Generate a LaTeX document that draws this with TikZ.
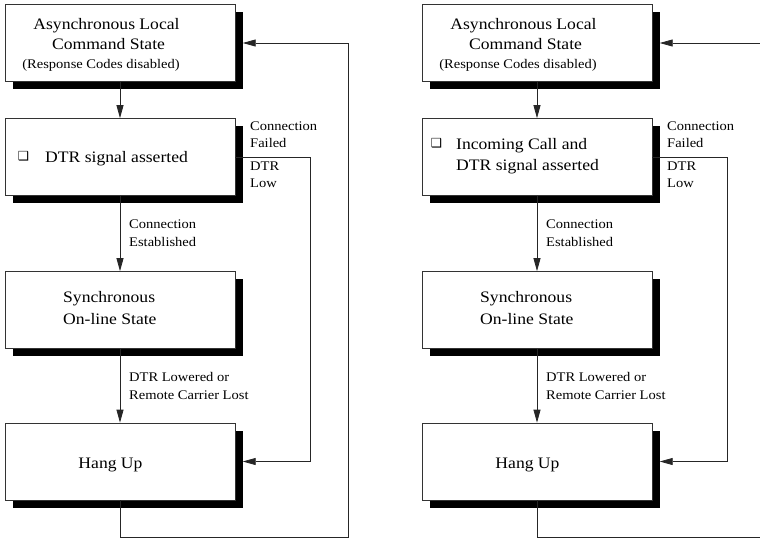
\documentclass[tikz,border=0pt]{standalone}
\usepackage{fontspec}
\setmainfont[FakeStretch=1.1]{Liberation Serif}
\newfontfamily\symfont{DejaVu Sans}
\usetikzlibrary{arrows.meta}
\begin{document}
\begin{tikzpicture}[x=1pt,y=-1pt,
  box/.style={draw=black!80, line width=0.7pt, fill=white, minimum width=230pt, minimum height=77pt, inner sep=0pt},
  shad/.style={fill=black, draw=none, minimum width=230pt, minimum height=77pt, inner sep=0pt},
  big/.style={font=\fontsize{16}{20}\selectfont, inner sep=0pt, anchor=base west},
  bigc/.style={font=\fontsize{16}{20}\selectfont, inner sep=0pt, anchor=base},
  small/.style={font=\fontsize{13.2}{17}\selectfont, inner sep=0pt, anchor=base west},
  smallc/.style={font=\fontsize{13.2}{17}\selectfont, inner sep=0pt, anchor=base},
  chk/.style={font=\symfont\fontsize{12.5}{12.5}\selectfont, inner sep=0pt, anchor=center},
  line/.style={draw=black!85, line width=0.8pt},
  arr/.style={line, -{Triangle[length=13pt,width=7pt]}}
]
\useasboundingbox (0,0) rectangle (760,539);
\clip (0,0) rectangle (760,539);

% ---------------- left diagram ----------------
\node[shad] (Ls1) at (127.5,50.5) {};
\node[shad] (Ls2) at (127.5,164.5) {};
\node[shad] (Ls3) at (127.5,317.5) {};
\node[shad] (Ls4) at (127.5,469) {};
\node[box] (L1) at (120,43) {};
\node[box] (L2) at (120,157) {};
\node[box] (L3) at (120,310) {};
\node[box] (L4) at (120,461.5) {};

\node[bigc] (L1a) at (106.5,29) {Asynchronous Local};
\node[bigc] (L1b) at (108.5,49) {Command State};
\node[smallc] (L1c) at (101,68) {(Response Codes disabled)};
\node[chk] (L2c) at (23.5,156) {❑};
\node[big] (L2a) at (45,162.5) {DTR signal asserted};
\node[big] (L3a) at (63,302.5) {Synchronous};
\node[big] (L3b) at (63,324.5) {On-line State};
\node[bigc] (L4a) at (110.5,468) {Hang Up};

\node[small] (Lf1) at (250,130) {Connection};
\node[small] (Lf2) at (250,147) {Failed};
\node[small] (Ld1) at (250,170) {DTR};
\node[small] (Ld2) at (250,187) {Low};
\node[small] (Le1) at (129,228) {Connection};
\node[small] (Le2) at (129,246) {Established};
\node[small] (Lr1) at (129,381) {DTR Lowered or};
\node[small] (Lr2) at (129,399) {Remote Carrier Lost};

\coordinate (Lloop) at (348,537);
\draw[arr] (L1.south) -- (L2.north);
\draw[arr] (L2.south) -- (L3.north);
\draw[arr] (L3.south) -- (L4.north);
\draw[arr] (L2.east) -- ++(75,0) |- (L4.east -| Ls4.east);
\draw[arr] (L4.south) |- (Lloop) |- (L1.east -| Ls1.east);

% ---------------- right diagram ----------------
\node[shad] (Rs1) at (544.5,50.5) {};
\node[shad] (Rs2) at (544.5,164.5) {};
\node[shad] (Rs3) at (544.5,317.5) {};
\node[shad] (Rs4) at (544.5,469) {};
\node[box] (R1) at (537,43) {};
\node[box] (R2) at (537,157) {};
\node[box] (R3) at (537,310) {};
\node[box] (R4) at (537,461.5) {};

\node[bigc] (R1a) at (523.5,29) {Asynchronous Local};
\node[bigc] (R1b) at (525.5,49) {Command State};
\node[smallc] (R1c) at (518,68) {(Response Codes disabled)};
\node[chk] (R2c) at (436.5,143.5) {❑};
\node[big] (R2a) at (456,149) {Incoming Call and};
\node[big] (R2b) at (456,170) {DTR signal asserted};
\node[big] (R3a) at (480,302.5) {Synchronous};
\node[big] (R3b) at (480,324.5) {On-line State};
\node[bigc] (R4a) at (527.5,468) {Hang Up};

\node[small] (Rf1) at (667,130) {Connection};
\node[small] (Rf2) at (667,147) {Failed};
\node[small] (Rd1) at (667,170) {DTR};
\node[small] (Rd2) at (667,187) {Low};
\node[small] (Re1) at (546,228) {Connection};
\node[small] (Re2) at (546,246) {Established};
\node[small] (Rr1) at (546,381) {DTR Lowered or};
\node[small] (Rr2) at (546,399) {Remote Carrier Lost};

\coordinate (Rloop) at (765,537);
\draw[arr] (R1.south) -- (R2.north);
\draw[arr] (R2.south) -- (R3.north);
\draw[arr] (R3.south) -- (R4.north);
\draw[arr] (R2.east) -- ++(75,0) |- (R4.east -| Rs4.east);
\draw[arr] (R4.south) |- (Rloop) |- (R1.east -| Rs1.east);
\end{tikzpicture}
\end{document}
